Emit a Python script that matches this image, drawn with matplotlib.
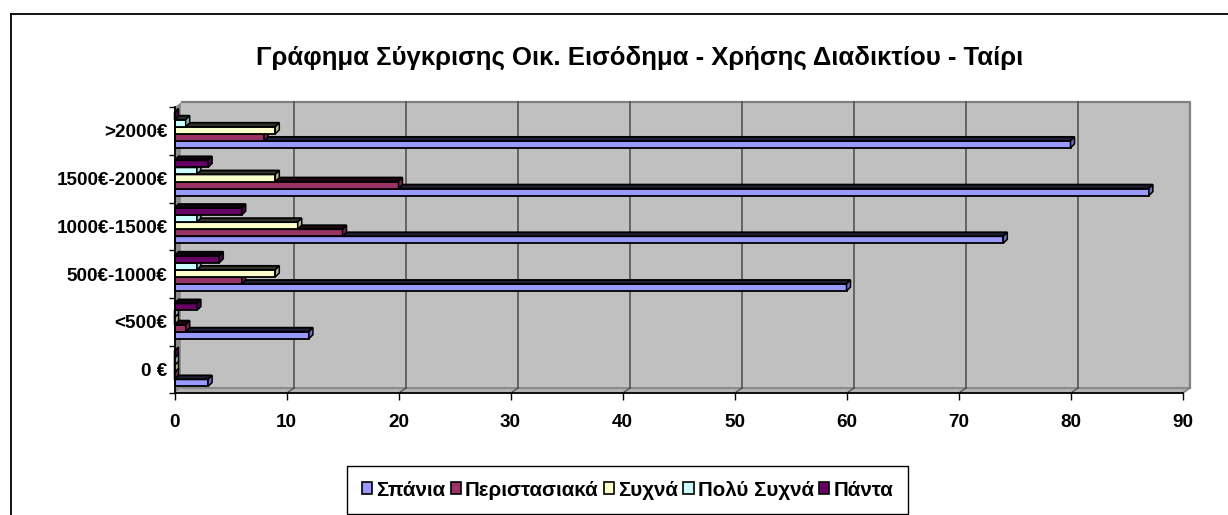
import matplotlib
matplotlib.use('Agg')
import matplotlib.pyplot as plt
from matplotlib.patches import Polygon, Patch
from matplotlib.lines import Line2D
import matplotlib.colors as mcolors
import numpy as np

# ---------------- data ----------------
categories = ['0 €', '<500€', '500€-1000€', '1000€-1500€', '1500€-2000€', '>2000€']
series_names = ['Σπάνια', 'Περιστασιακά', 'Συχνά', 'Πολύ Συχνά', 'Πάντα']
spania = [3, 12, 60, 74, 87, 80]
peristasiaka = [0, 1, 6, 15, 20, 8]
sychna = [0, 0, 9, 11, 9, 9]
poly_sychna = [0, 0, 2, 2, 2, 1]
panta = [0, 2, 4, 6, 3, 0]
x_ticks = list(range(0, 100, 10))
title = 'Γράφημα Σύγκρισης Οικ. Εισόδημα - Χρήσης Διαδικτίου - Ταίρι'

series = [spania, peristasiaka, sychna, poly_sychna, panta]
colors = ['#9999FF', '#993366', '#FFFFCC', '#CCFFFF', '#660066']

plt.rcParams['font.family'] = ['Liberation Sans', 'DejaVu Sans']
plt.rcParams['font.weight'] = 'bold'
tick_size, leg_size = 13.6, 14.8

W, H = 1228, 515
fig = plt.figure(figsize=(W / 100, H / 100), dpi=100)


def fx(px):
    return px / W


def fy(py):
    return 1 - py / H


x0p, x1p = 174.5, 1182.5
ytp, ybp = 107.1, 393.3
ax = fig.add_axes([fx(x0p), fy(ybp), fx(x1p) - fx(x0p), fy(ytp) - fy(ybp)])
ax.set_xlim(0, 90)
ax.set_ylim(-0.5, 5.5)
ax.set_facecolor('none')

ppx = (x1p - x0p) / 90.0        # px per x unit
ppy = (ybp - ytp) / 6.0         # px per y unit

# 3D wall geometry
wdx = 7 / ppx
wdy = 5 / ppy
wall_col = '#C0C0C0'
edge_gray = '#808080'
ax.add_patch(Polygon([(wdx, -0.5 + wdy), (90 + wdx, -0.5 + wdy), (90 + wdx, 5.5 + wdy), (wdx, 5.5 + wdy)],
                     closed=True, fc=wall_col, ec='none', zorder=0.5, clip_on=False))
# left wall
ax.add_patch(Polygon([(0, -0.5), (wdx, -0.5 + wdy), (wdx, 5.5 + wdy), (0, 5.5)],
                     closed=True, fc='#8C8C8C', ec='none', zorder=0.6, clip_on=False))
# floor
ax.add_patch(Polygon([(0, -0.5), (90, -0.5), (90 + wdx, -0.5 + wdy), (wdx, -0.5 + wdy)],
                     closed=True, fc='#B0B0B0', ec='none', zorder=0.6, clip_on=False))
# wall edges
ax.plot([wdx, 90 + wdx, 90 + wdx], [5.5 + wdy, 5.5 + wdy, -0.5 + wdy], color=edge_gray, lw=1.6,
        zorder=0.7, clip_on=False)
ax.plot([wdx, 90 + wdx], [-0.5 + wdy, -0.5 + wdy], color=edge_gray, lw=1.2, zorder=0.7, clip_on=False)
ax.plot([90, 90 + wdx], [-0.5, -0.5 + wdy], color=edge_gray, lw=1.2, zorder=0.7, clip_on=False)
# gridlines on back wall
for t in x_ticks[1:-1]:
    ax.plot([t + wdx, t + wdx], [-0.5 + wdy, 5.5 + wdy], color='#4A4A4A', lw=1.1, zorder=0.8, clip_on=False)
    ax.plot([t, t + wdx], [-0.5, -0.5 + wdy], color='#4A4A4A', lw=0.9, zorder=0.8, clip_on=False)

# bars with 3D effect
s = 0.148
hf = 0.148
base = -0.356
bdx = 4 / ppx
bdy = 4 / ppy
ypos = np.arange(len(categories))
for k, (vals, col) in enumerate(zip(series, colors)):
    rgb = np.array(mcolors.to_rgb(col))
    dark = tuple(rgb * 0.2)
    side = tuple(rgb * 0.72)
    yb = ypos + base + k * s
    ax.barh(yb, vals, height=hf, left=0, align='edge', color=col, edgecolor='black',
            linewidth=1.3, zorder=3, clip_on=False)
    for y0, v in zip(yb, vals):
        yt = y0 + hf
        ax.add_patch(Polygon([(0, yt), (v, yt), (v + bdx, yt + bdy), (bdx, yt + bdy)], closed=True,
                             fc=dark, ec='black', lw=1.3, zorder=3, clip_on=False))
        ax.add_patch(Polygon([(v, y0), (v + bdx, y0 + bdy), (v + bdx, yt + bdy), (v, yt)], closed=True,
                             fc=side, ec='black', lw=1.1, zorder=3, clip_on=False))

# axes / spines
for sp in ['top', 'right']:
    ax.spines[sp].set_visible(False)
for sp in ['left', 'bottom']:
    ax.spines[sp].set_color('black')
    ax.spines[sp].set_linewidth(1.3)
    ax.spines[sp].set_zorder(4)

ax.set_yticks(ypos)
ax.set_yticklabels(categories)
ax.set_yticks(np.arange(-0.5, 6, 1), minor=True)
ax.tick_params(axis='y', which='major', length=0, pad=5)
ax.tick_params(axis='y', which='minor', length=4, width=1.0, direction='out', color='black')
ax.set_xticks(x_ticks)
ax.set_xticklabels([str(t) for t in x_ticks])
ax.tick_params(axis='x', which='major', length=5, width=1.0, direction='out', pad=10)
for lab in ax.get_xticklabels() + ax.get_yticklabels():
    lab.set_fontweight('bold')
    lab.set_fontsize(tick_size)

# title
fig.text(fx(640), fy(65), title, ha='center', va='baseline', fontsize=18.5, fontweight='bold')

# legend
handles = [Patch(facecolor=c, edgecolor='black', linewidth=1.2) for c in colors]
leg = fig.legend(handles, series_names, loc='center', bbox_to_anchor=(fx(627.5), fy(490)), ncol=5,
                 frameon=True, fancybox=False, framealpha=1, edgecolor='black',
                 prop={'size': leg_size, 'weight': 'bold'},
                 handlelength=0.5, handleheight=0.55,
                 handletextpad=0.2, columnspacing=0.25, borderpad=0.7, borderaxespad=0)
leg.get_frame().set_linewidth(1.0)

# figure border (left and top)
fig.add_artist(Line2D([fx(10.5), fx(10.5)], [0, fy(13.5)], color='black', lw=1.3))
fig.add_artist(Line2D([fx(10.5), 1], [fy(13.5), fy(13.5)], color='black', lw=1.3))

fig.savefig('out.png', dpi=100, facecolor='white')
